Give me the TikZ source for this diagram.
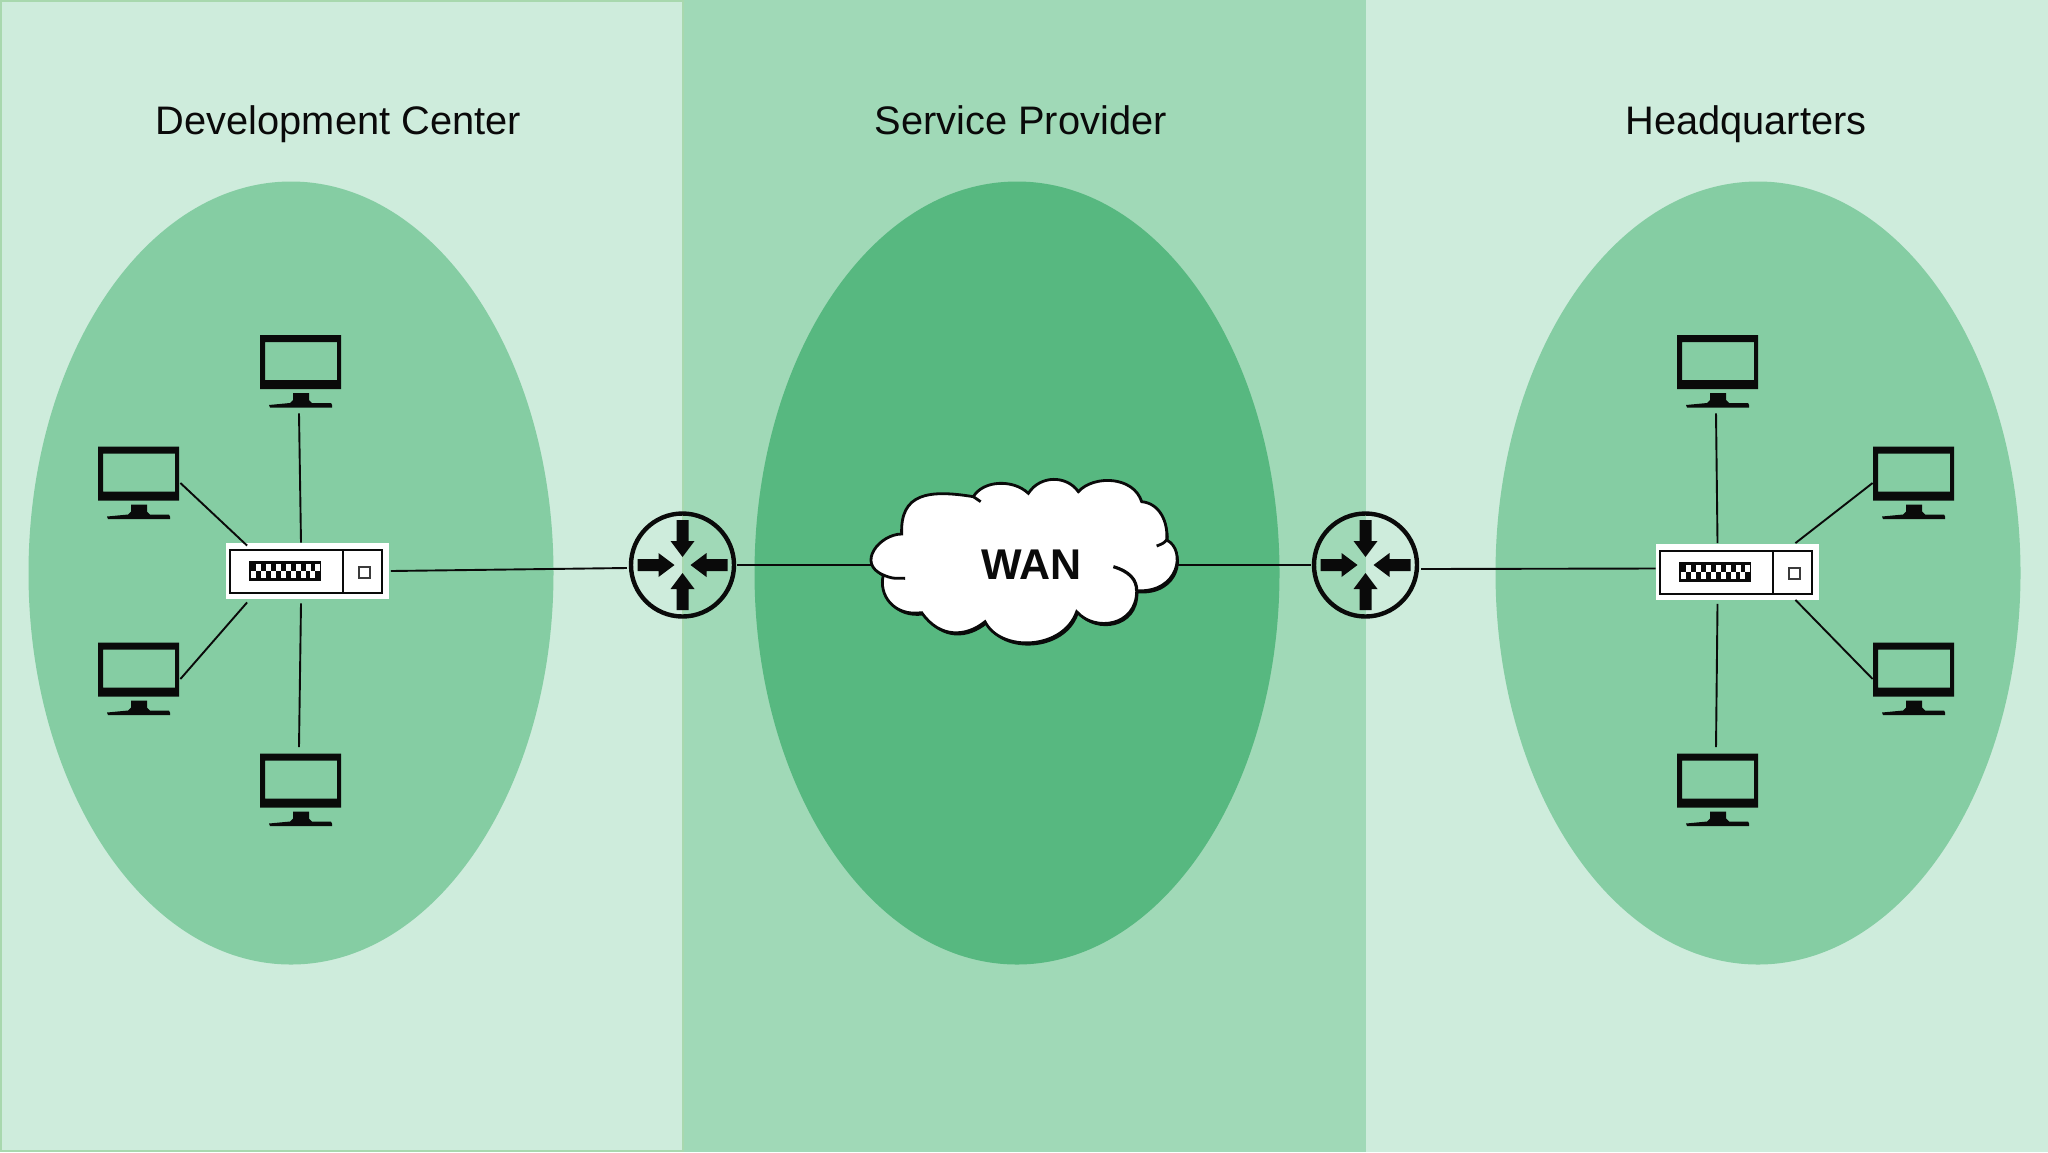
\documentclass[tikz,border=0pt]{standalone}
\usepackage{fontspec}
\setmainfont{Liberation Sans}
\usetikzlibrary{calc}
\definecolor{bandside}{HTML}{CEECDC}
\definecolor{bandmid}{HTML}{A0D9B7}
\definecolor{ellside}{HTML}{85CDA3}
\definecolor{ellmid}{HTML}{57B880}
\definecolor{bandedge}{HTML}{A8D8AE}
\definecolor{ink}{HTML}{0A0A0A}
\tikzset{
  link/.style={draw=ink,line width=0.95pt},
  title/.style={anchor=base,text=ink,font=\fontsize{19.9}{24}\selectfont,inner sep=0pt},
  hostbox/.style={inner sep=0pt,minimum width=41pt,minimum height=36.5pt},
  switchbox/.style={fill=white,inner sep=0pt,minimum width=81.5pt,minimum height=28pt},
  routerbox/.style={circle,draw=ink,line width=2.2pt,inner sep=0pt,minimum size=51.5pt},
  cloudbox/.style={inner sep=0pt,minimum width=148pt,minimum height=75pt},
}
% monitor: name, left, top
\newcommand{\hostat}[3]{%
  \node[hostbox] (#1) at (#2+41,#3+36.5) {};
  \begin{scope}[shift={(#2,#3)}]
    \fill[ink,even odd rule] (0,0) rectangle (81,54) (5,7) rectangle (77,45);
    \fill[ink] (33,58) -- (49,58) -- (49,65) -- (52,68) -- (71,68) -- (72,70) -- (72,72.5) -- (10,72.5) -- (9,70) -- (30,68) -- (33,65) -- cycle;
  \end{scope}}
% switch details: left, top of the white box
\newcommand{\switchart}[2]{%
  \begin{scope}[shift={(#1,#2)}]
    \draw[ink,line width=1pt] (4,7) rectangle (156,50);
    \draw[ink,line width=1pt] (117,7) -- (117,50);
    \fill[ink] (23,18) rectangle (95,38);
    \foreach \i in {0,...,6} {
      \fill[white] (25+\i*9.9,28) rectangle (30+\i*9.9,35);
      \fill[white] (30+\i*9.9,21) rectangle (35+\i*9.9,28);
    }
    \draw[ink!80,line width=1pt] (132.5,24) rectangle (143.5,35);
  \end{scope}}
% router arrows about a centre
\newcommand{\routerart}[2]{%
  \foreach \a in {0,90,180,270} {
    \fill[ink,shift={(#1,#2)},rotate=\a] (8,0) -- (24,-12) -- (24,-6) -- (45,-6) -- (45,6) -- (24,6) -- (24,12) -- cycle;
  }}
\newcommand{\cloudpath}{(155,222) .. controls (90,222) and (17,310) .. (100,345) .. controls (85,404) and (130,470) .. (215,458) .. controls (270,537) and (350,530) .. (405,485) .. controls (452,578) and (640,570) .. (680,455) .. controls (733,516) and (860,500) .. (860,392) .. controls (987,400) and (1010,270) .. (950,240) .. controls (955,188) and (930,130) .. (875,125) .. controls (850,47) and (730,45) .. (685,95) .. controls (650,45) and (570,45) .. (535,100) .. controls (490,57) and (400,60) .. (370,110) .. controls (235,88) and (150,100) .. (155,222) -- cycle}
\begin{document}
\begin{tikzpicture}[x=0.5pt,y=-0.5pt]
\useasboundingbox (0,0) rectangle (2048,1152);
% bands
\fill[bandside] (0,0) rectangle (2048,1152);
\fill[bandmid] (683,0) rectangle (1366,1152);
\draw[bandedge,line width=0.8pt] (1,1) rectangle (683,1151);
% zones
\fill[ellside] (291,573) ellipse [x radius=262.5,y radius=391.5];
\fill[ellmid] (1017,573) ellipse [x radius=262.5,y radius=391.5];
\fill[ellside] (1758,573) ellipse [x radius=262.5,y radius=391.5];
% titles
\node[title] (tdev) at (338.5,134) {Development Center};
\node[title] (tsp) at (1020.7,134) {Service Provider};
\node[title] (thq) at (1746,134) {Headquarters};
% hosts
\hostat{a1}{260}{335}
\hostat{a2}{98}{446.5}
\hostat{a3}{98}{642.5}
\hostat{a4}{260}{753.5}
\hostat{b1}{1677}{335}
\hostat{b2}{1873}{446.5}
\hostat{b3}{1873}{642.5}
\hostat{b4}{1677}{753.5}
% switches
\node[switchbox] (sa) at (307,571) {};
\switchart{226}{543}
\node[switchbox] (sb) at (1737.5,571.5) {};
\switchart{1656}{543.5}
% routers
\node[routerbox] (ra) at (682.5,565) {};
\routerart{682.5}{565}
\node[routerbox] (rb) at (1365.5,565) {};
\routerart{1365.5}{565}
% cloud frame
\node[cloudbox] (cl) at (1024,565) {};
% connectors
\draw[link] ([shift={(-2,5)}]a1.south) -- ([shift={(-6,0)}]sa.north);
\draw[link] (a2.east) -- ([shift={(22,3)}]sa.north west);
\draw[link] (a3.east) -- ([shift={(22,3)}]sa.south west);
\draw[link] ([shift={(-2,-6)}]a4.north) -- ([shift={(-6,4)}]sa.south);
\draw[link] ([shift={(-2,5)}]b1.south) -- ([shift={(-20,0)}]sb.north);
\draw[link] (b2.west) -- ([shift={(-24,0)}]sb.north east);
\draw[link] (b3.west) -- ([shift={(-24,0)}]sb.south east);
\draw[link] ([shift={(-2,-6)}]b4.north) -- ([shift={(-20,4)}]sb.south);
\draw[link] ([shift={(2,0)}]sa.east) -- ([shift={(-2,3)}]ra.west);
\draw[link] ([shift={(1,0)}]ra.east) -- (cl.west);
\draw[link] (cl.east) -- ([shift={(-1,0)}]rb.west);
\draw[link] ([shift={(2,4)}]rb.east) -- ([shift={(0,-3)}]sb.west);
% cloud
\begin{scope}[shift={(850,460)},x=0.16667pt,y=-0.16667pt]
  \fill[ink,shift={(5,8)}] \cloudpath;
  \filldraw[fill=white,draw=ink,line width=1.4pt] \cloudpath;
  \draw[ink,line width=1.4pt] (100,345) .. controls (125,355) .. (165,355);
  \draw[ink,line width=1.6pt] (790,320) .. controls (840,335) and (860,360) .. (860,392);
  \draw[ink,line width=1.4pt] (950,240) .. controls (940,250) .. (920,258);
  \draw[ink,line width=1.4pt] (370,110) .. controls (380,120) .. (392,125);
\end{scope}
\node[anchor=base,text=ink,inner sep=0pt,font=\fontsize{21.5}{24}\selectfont\bfseries] (wan) at (1031.5,579) {WAN};
\end{tikzpicture}
\end{document}
